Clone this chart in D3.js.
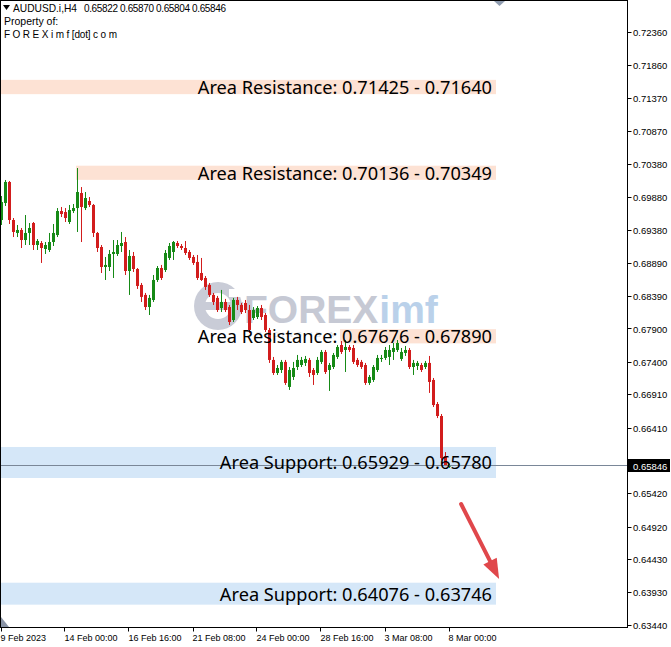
<!DOCTYPE html>
<html><head><meta charset="utf-8">
<script src="https://cdn.jsdelivr.net/npm/d3@7"></script>
<style>html,body{margin:0;padding:0;background:#fff;} svg{display:block;}</style>
</head><body><svg id="c" width="671" height="647"></svg>
<script>
// ---------------- DATA ----------------
const symbol = "AUDUSD.i,H4";
const headerOHLC = ["0.65822", "0.65870", "0.65804", "0.65846"];
const headerLines = ["Property of:", "F O R E X i m f [dot] c o m"];

const opens = [0.69532,0.69788,0.70104,0.69532,0.69337,0.69382,0.69231,0.69337,0.69487,0.69156,
0.69186,0.69096,0.69081,0.69201,0.69306,0.69667,0.69652,0.69502,0.69667,0.69712,
0.69938,0.69712,0.69818,0.69758,0.69337,0.69126,0.68825,0.68825,0.69021,0.69021,
0.69141,0.69201,0.68765,0.68991,0.68795,0.68555,0.68405,0.68223,0.68329,0.68630,
0.68810,0.68780,0.68961,0.69051,0.69186,0.69141,0.69111,0.69051,0.68976,0.68901,
0.68735,0.68660,0.68555,0.68405,0.68360,0.68208,0.68299,0.68223,0.68028,0.68329,
0.68254,0.68284,0.68178,0.68058,0.68073,0.68208,0.68103,0.67878,0.67427,0.67231,
0.67276,0.67397,0.67021,0.67171,0.67321,0.67351,0.67382,0.67427,0.67276,0.67231,
0.67397,0.67547,0.67276,0.67321,0.67472,0.67652,0.67577,0.67622,0.67607,0.67427,
0.67397,0.67351,0.67081,0.67126,0.67276,0.67442,0.67457,0.67472,0.67547,0.67577,
0.67442,0.67532,0.67577,0.67321,0.67336,0.67351,0.67321,0.67382,0.67126,0.66764,
0.66584,0.65981,0.65822];
const highs = [0.69893,0.70134,0.70119,0.69562,0.69457,0.69412,0.69607,0.69487,0.69502,0.69246,
0.69216,0.69201,0.69337,0.69472,0.69712,0.69728,0.69712,0.69758,0.69773,0.70314,
0.70028,0.69953,0.69878,0.69773,0.69352,0.69156,0.68976,0.69081,0.69231,0.69231,
0.69352,0.69276,0.69081,0.69051,0.68810,0.68585,0.68435,0.68405,0.68705,0.68840,
0.68856,0.69081,0.69186,0.69216,0.69216,0.69171,0.69216,0.69081,0.69006,0.69006,
0.68961,0.68690,0.68585,0.68435,0.68390,0.68480,0.68345,0.68254,0.68360,0.68375,
0.68284,0.68329,0.68254,0.68223,0.68238,0.68254,0.68133,0.67908,0.67472,0.67351,
0.67427,0.67427,0.67321,0.67397,0.67502,0.67472,0.67487,0.67457,0.67306,0.67472,
0.67577,0.67577,0.67382,0.67532,0.67652,0.67712,0.67727,0.67652,0.67652,0.67457,
0.67427,0.67382,0.67201,0.67351,0.67502,0.67502,0.67622,0.67652,0.67682,0.67727,
0.67607,0.67637,0.67607,0.67427,0.67412,0.67382,0.67412,0.67487,0.67156,0.66794,
0.66614,0.66041,0.65870];
const lows = [0.69457,0.69743,0.69472,0.69276,0.69276,0.69111,0.69156,0.69156,0.69081,0.69081,
0.68886,0.69021,0.69051,0.69141,0.69276,0.69577,0.69502,0.69472,0.69637,0.69352,
0.69201,0.69682,0.69728,0.69276,0.69051,0.68735,0.68630,0.68765,0.68660,0.68991,
0.69051,0.68705,0.68405,0.68750,0.68495,0.68299,0.68178,0.68103,0.68299,0.68600,
0.68630,0.68750,0.68931,0.68931,0.69111,0.69081,0.69006,0.68931,0.68856,0.68630,
0.68615,0.68480,0.68375,0.68254,0.68148,0.68148,0.68148,0.67953,0.67998,0.68178,
0.68118,0.68133,0.67833,0.68028,0.68043,0.68028,0.67848,0.67382,0.67201,0.67201,
0.67231,0.67051,0.66976,0.67126,0.67276,0.67321,0.67336,0.67171,0.67051,0.67201,
0.67366,0.67216,0.66961,0.67291,0.67442,0.67517,0.67246,0.67547,0.67366,0.67321,
0.67291,0.67051,0.67051,0.67096,0.67246,0.67397,0.67427,0.67351,0.67427,0.67547,
0.67412,0.67487,0.67291,0.67201,0.67276,0.67246,0.67291,0.66931,0.66719,0.66553,
0.65921,0.65831,0.65804];
const closes = [0.69803,0.70104,0.69532,0.69352,0.69382,0.69231,0.69337,0.69412,0.69156,0.69216,
0.69111,0.69156,0.69201,0.69337,0.69667,0.69622,0.69562,0.69682,0.69712,0.69953,
0.69728,0.69863,0.69758,0.69337,0.69111,0.68825,0.68856,0.69021,0.69051,0.69156,
0.69186,0.68765,0.68991,0.68795,0.68540,0.68375,0.68223,0.68360,0.68630,0.68810,
0.68660,0.69036,0.69141,0.69201,0.69141,0.69111,0.69036,0.68961,0.68886,0.68660,
0.68630,0.68525,0.68405,0.68299,0.68178,0.68299,0.68178,0.67998,0.68329,0.68254,
0.68148,0.68178,0.67878,0.68178,0.68208,0.68073,0.67878,0.67427,0.67231,0.67306,
0.67397,0.67081,0.67276,0.67306,0.67427,0.67427,0.67442,0.67231,0.67201,0.67427,
0.67547,0.67246,0.67351,0.67502,0.67622,0.67547,0.67622,0.67577,0.67397,0.67351,
0.67321,0.67081,0.67171,0.67321,0.67457,0.67457,0.67577,0.67577,0.67607,0.67682,
0.67547,0.67577,0.67321,0.67382,0.67382,0.67276,0.67382,0.67096,0.66749,0.66584,
0.65951,0.65830,0.65846];

const xTickIndex = [0, 16, 32, 48, 64, 80, 96, 112];
const xTickLabels = ["9 Feb 2023", "14 Feb 00:00", "16 Feb 16:00", "21 Feb 08:00", "24 Feb 00:00", "28 Feb 16:00", "3 Mar 08:00", "8 Mar 00:00"];
const yTicks = [0.72360, 0.71860, 0.71370, 0.70870, 0.70380, 0.69880, 0.69380, 0.68890, 0.68390, 0.67900, 0.67400, 0.66910, 0.66410, 0.65910, 0.65420, 0.64920, 0.64430, 0.63930, 0.63440];
const lastPrice = 0.65846;

// zones (S/R areas)
const zoneKind   = ["res", "res", "res", "sup", "sup"];
const zoneTop    = [0.71640, 0.70349, 0.67890, 0.66118, 0.64076];
const zoneBottom = [0.71425, 0.70136, 0.67676, 0.65651, 0.63746];
const zoneStart  = [0, 19, 85, 0, 0];
const zoneEnd    = 124;
const zoneLabels = ["Area Resistance: 0.71425 - 0.71640", "Area Resistance: 0.70136 - 0.70349", "Area Resistance: 0.67676 - 0.67890", "Area Support: 0.65929 - 0.65780", "Area Support: 0.64076 - 0.63746"];

// arrow annotation (index, price)
const arrowFrom = [114.9, 0.65260];
const arrowTo   = [124.4, 0.64132];

// ---------------- CHART ----------------
const W = 671, H = 647, plotR = 627, plotB = 627;
const svg = d3.select("#c");
svg.append("rect").attr("width", W).attr("height", H).attr("fill", "#fff");

const x = d3.scaleLinear().domain([0, 156]).range([1.5, 625.5]);
const y = d3.scaleLinear().domain([0.72360, 0.63440]).range([32, 625]);

const COL_UP = "#168a16", COL_DN = "#d21d1d";

// watermark
const wm = svg.append("g").attr("class", "watermark");
wm.append("circle").attr("cx", 218).attr("cy", 306).attr("r", 24).attr("fill", "#c9ccd7");
wm.append("circle").attr("cx", 218).attr("cy", 306).attr("r", 13).attr("fill", "#fff");
wm.append("rect").attr("x", 205).attr("y", 302).attr("width", 38).attr("height", 8).attr("fill", "#c9ccd7");
wm.append("rect").attr("x", 229).attr("y", 289).attr("width", 14).attr("height", 8).attr("fill", "#fff");
const wmF = wm.append("text").attr("x", 244).attr("y", 323).attr("font-family", "Liberation Sans, Arial, sans-serif")
  .attr("font-weight", "bold").attr("font-size", 39).attr("fill", "#c6c9d4").text("FOREX");
const fw = wmF.node().getComputedTextLength();
wm.append("text").attr("x", 244 + fw + 1).attr("y", 323).attr("font-family", "Liberation Sans, Arial, sans-serif")
  .attr("font-weight", "bold").attr("font-size", 39).attr("fill", "#bad1ea").text("imf");
wm.append("text").attr("x", 248).attr("y", 337).attr("font-family", "Liberation Sans, Arial, sans-serif")
  .attr("font-size", 8).attr("letter-spacing", 3).attr("fill", "#dadce4").text("TRADING IS A BUSINESS");

// zones
const zones = zoneKind.map((k, i) => ({k, top: zoneTop[i], bot: zoneBottom[i], s: zoneStart[i], label: zoneLabels[i]}));
svg.append("g").selectAll("rect").data(zones).join("rect")
  .attr("x", d => x(d.s) - 1.5)
  .attr("width", d => x(zoneEnd) - x(d.s))
  .attr("y", d => y(d.top))
  .attr("height", d => y(d.bot) - y(d.top))
  .attr("fill", d => d.k === "res" ? "#fde2d4" : "#d5e7f8");

// candles
const candles = opens.map((o, i) => ({i, o, h: highs[i], l: lows[i], c: closes[i]}));
const cg = svg.append("g");
cg.selectAll("rect.wick").data(candles).join("rect").attr("class", "wick")
  .attr("x", d => x(d.i) - 0.5).attr("width", 1)
  .attr("y", d => y(d.h)).attr("height", d => Math.max(1, y(d.l) - y(d.h)))
  .attr("fill", d => d.c >= d.o ? COL_UP : COL_DN);
cg.selectAll("rect.body").data(candles).join("rect").attr("class", "body")
  .attr("x", d => x(d.i) - 1.5).attr("width", 3)
  .attr("y", d => y(Math.max(d.o, d.c))).attr("height", d => Math.max(1, Math.abs(y(d.o) - y(d.c))))
  .attr("fill", d => d.c >= d.o ? COL_UP : COL_DN);

// current price line
const yl = Math.round(y(lastPrice)) + 0.5;
svg.append("line").attr("x1", 0).attr("x2", plotR).attr("y1", yl).attr("y2", yl)
  .attr("stroke", "#7a8798").attr("stroke-width", 1);

// zone labels
svg.append("g").selectAll("text").data(zones).join("text")
  .attr("x", x(zoneEnd) - 5.5)
  .attr("y", d => y((d.top + d.bot) / 2))
  .attr("text-anchor", "end").attr("dominant-baseline", "central")
  .attr("font-family", "Noto Sans, Open Sans, sans-serif").attr("font-size", 18.2)
  .attr("fill", "#000").text(d => d.label);

// arrow
(function () {
  const sx = x(arrowFrom[0]), sy = y(arrowFrom[1]);
  const tx = x(arrowTo[0]), ty = y(arrowTo[1]);
  const len = Math.hypot(tx - sx, ty - sy);
  const ux = (tx - sx) / len, uy = (ty - sy) / len;
  const nx = -uy, ny = ux;
  const hl = 20, hw = 7.5;
  const bx = tx - ux * hl, by = ty - uy * hl;
  svg.append("line").attr("x1", sx).attr("y1", sy).attr("x2", bx + ux * 2).attr("y2", by + uy * 2)
    .attr("stroke", "#e0474b").attr("stroke-width", 4).attr("stroke-linecap", "round");
  svg.append("polygon").attr("fill", "#e0474b")
    .attr("points", [[tx, ty], [bx + nx * hw, by + ny * hw], [bx - nx * hw, by - ny * hw]].map(p => p.join(",")).join(" "));
})();

// frame
svg.append("rect").attr("x", 0.5).attr("y", 0.5).attr("width", plotR).attr("height", plotB)
  .attr("fill", "none").attr("stroke", "#000").attr("stroke-width", 1);

// markers
svg.append("polygon").attr("points", "494,1 505,1 499.5,6").attr("fill", "#8f9cb0");
svg.append("polygon").attr("points", "1,617 1,627 9,627").attr("fill", "#8a94a6");

// y axis
const yAx = svg.append("g");
yAx.selectAll("line").data(yTicks).join("line")
  .attr("x1", plotR + 0.5).attr("x2", plotR + 4.5)
  .attr("y1", d => Math.round(y(d)) + 0.5).attr("y2", d => Math.round(y(d)) + 0.5)
  .attr("stroke", "#000");
yAx.selectAll("text").data(yTicks).join("text")
  .attr("x", 633).attr("y", d => y(d) + 0.5).attr("dominant-baseline", "central")
  .attr("font-family", "Liberation Sans, Arial, sans-serif").attr("font-size", 9.5)
  .attr("fill", "#000").text(d => d3.format(".5f")(d));

// last price box
svg.append("rect").attr("x", 628).attr("y", yl - 6.5).attr("width", 42).attr("height", 13).attr("fill", "#000");
svg.append("text").attr("x", 633).attr("y", yl + 0.5).attr("dominant-baseline", "central")
  .attr("font-family", "Liberation Sans, Arial, sans-serif").attr("font-size", 9.5)
  .attr("fill", "#fff").text(d3.format(".5f")(lastPrice));

// x axis
const xAx = svg.append("g");
xAx.selectAll("line").data(xTickIndex).join("line")
  .attr("x1", d => Math.round(x(d)) - 0.5).attr("x2", d => Math.round(x(d)) - 0.5)
  .attr("y1", plotB + 0.5).attr("y2", plotB + 4.5).attr("stroke", "#000");
xAx.selectAll("text").data(xTickIndex).join("text")
  .attr("x", (d, i) => Math.max(0, x(d) - 1)).attr("y", 641)
  .attr("font-family", "Liberation Sans, Arial, sans-serif").attr("font-size", 9)
  .attr("fill", "#000").text((d, i) => xTickLabels[i]);

// header
svg.append("polygon").attr("points", "3,5 10,5 6.5,10").attr("fill", "#000");
const hf = "Liberation Sans, Arial, sans-serif";
svg.append("text").attr("x", 13).attr("y", 12).attr("font-family", hf).attr("font-size", 10.5)
  .attr("textLength", 64).attr("lengthAdjust", "spacingAndGlyphs").attr("fill", "#000").text(symbol);
svg.append("text").attr("x", 84).attr("y", 12).attr("font-family", hf).attr("font-size", 10)
  .attr("textLength", 142).attr("fill", "#000").text(headerOHLC.join(" "));
svg.append("text").attr("x", 4).attr("y", 25).attr("font-family", hf).attr("font-size", 10.5)
  .attr("fill", "#000").text(headerLines[0]);
svg.append("text").attr("x", 4).attr("y", 38).attr("font-family", hf).attr("font-size", 10)
  .attr("textLength", 113).attr("fill", "#000").text(headerLines[1]);
</script></body></html>
